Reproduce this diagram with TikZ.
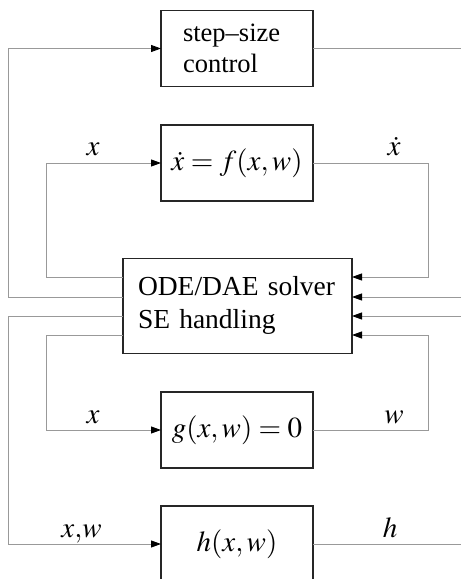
\documentclass[tikz,border=0pt]{standalone}
\usepackage{mathptmx}
\usepackage[no-math]{fontspec}
\setmainfont{Liberation Serif}
\usetikzlibrary{arrows.meta}
\tikzset{
  block/.style={draw=black!85, line width=1.1pt, minimum width=152pt,
    minimum height=76pt, inner sep=0pt, outer sep=0pt,
    font=\fontsize{29}{33}\selectfont},
  conn/.style={draw=black!40, line width=0.9pt},
  flow/.style={conn, -{Triangle[length=10pt,width=7pt,color=black]}},
  sig/.style={anchor=base, inner sep=0pt, font=\fontsize{29}{33}\selectfont},
}
\begin{document}
\begin{tikzpicture}[x=1pt,y=-1pt]
\useasboundingbox (0,0) rectangle (461,579);
\clip (0,0) rectangle (461,579);

% blocks
\node[block, align=left, text width=108pt, inner xsep=22pt,
  font=\fontsize{26.5}{31}\selectfont] (ssc) at (237,48.5)
  {step--size\\control};
\node[block] (fbox) at (237,163) {$\dot{x} = f(x,w)$};
\node[block, minimum width=229pt, minimum height=95pt, align=left,
  text width=199pt, inner xsep=15pt, font=\fontsize{27.5}{33}\selectfont]
  (solver) at (237.5,305.75) {ODE/DAE solver\\SE handling};
\node[block] (gbox) at (237,430) {$g(x,w) = 0$};
\node[block] (hbox) at (237,544) {$h(x,w)$};

% rails and ports
\coordinate (lrail) at (8,0);
\coordinate (mrail) at (46,0);
\coordinate (rrail) at (428,0);
\coordinate (edge)  at (461,0);
\coordinate (sW1) at ([yshift=28.75pt]solver.west);
\coordinate (sW2) at ([yshift=8.75pt]solver.west);
\coordinate (sW3) at ([yshift=-10.25pt]solver.west);
\coordinate (sW4) at ([yshift=-29.25pt]solver.west);
\coordinate (sE1) at ([yshift=28.75pt]solver.east);
\coordinate (sE2) at ([yshift=8.75pt]solver.east);
\coordinate (sE3) at ([yshift=-10.25pt]solver.east);
\coordinate (sE4) at ([yshift=-29.25pt]solver.east);

% connectors
\draw[flow] (sW2) -- (sW2 -| lrail) |- (ssc.west);
\draw[conn] (ssc.east) -- (ssc.east -| edge);
\draw[flow] (sW1) -- (sW1 -| mrail) |- (fbox.west);
\draw[flow] (fbox.east) -- (fbox.east -| rrail) |- (sE1);
\draw[flow] (sE2 -| edge) -- (sE2);
\draw[flow] (sE3 -| edge) -- (sE3);
\draw[flow] (sW3) -- (sW3 -| lrail) |- (hbox.west);
\draw[flow] (sW4) -- (sW4 -| mrail) |- (gbox.west);
\draw[flow] (gbox.east) -- (gbox.east -| rrail) |- (sE4);
\draw[conn] (hbox.east) -- (hbox.east -| edge);

% signal labels
\node[sig] (lx1) at (93,155) {$x$};
\node[sig] (lxd) at (394,155) {$\dot{x}$};
\node[sig] (lx2) at (93,423) {$x$};
\node[sig] (lw)  at (394,423) {$w$};
\node[sig] (lxw) at (81.5,537) {$x{,}w$};
\node[sig] (lh)  at (390,537) {$h$};
\end{tikzpicture}
\end{document}
